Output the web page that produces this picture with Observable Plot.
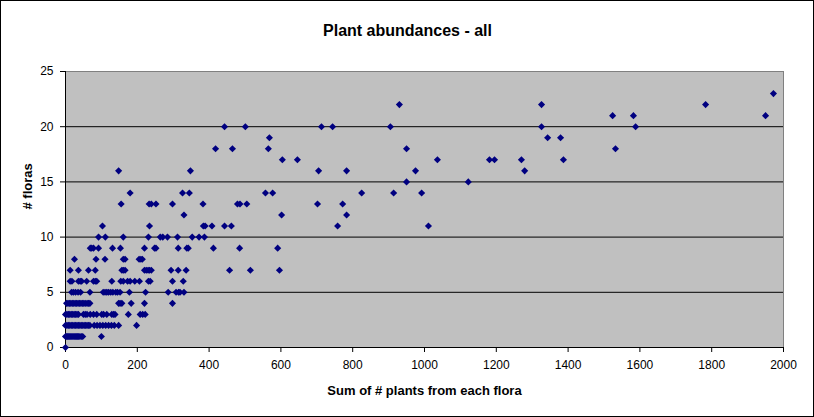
<!DOCTYPE html>
<html>
<head>
<meta charset="utf-8">
<script src="https://cdn.jsdelivr.net/npm/d3@7"></script>
<script src="https://cdn.jsdelivr.net/npm/@observablehq/plot@0.6"></script>
<style>
  html, body { margin: 0; padding: 0; background: #fff; }
  #chart svg { display: block; outline: 1px solid #000; outline-offset: -1px; background: #fff; }
</style>
</head>
<body>
<div id="chart"></div>
<script>
// Sum of # plants from each flora, grouped by # floras (y value)
const floras0 = [0];
const floras1 = [0, 3, 6, 9, 12, 15, 18, 21, 24, 27, 30, 33, 36, 40, 44, 48, 100];
const floras2 = [0, 4, 8, 12, 16, 20, 24, 28, 32, 36, 40, 44, 48, 52, 56, 60, 64, 68, 80, 88, 96, 104, 112, 120, 128, 136, 148, 198];
const floras3 = [0, 4, 8, 12, 16, 20, 24, 28, 32, 36, 50, 55, 60, 69, 78, 87, 101, 106, 115, 129, 134, 138, 175, 208, 215, 222];
const floras4 = [3, 7, 11, 15, 19, 23, 27, 31, 35, 39, 43, 47, 51, 55, 60, 64, 68, 148, 152, 157, 183, 220, 298];
const floras5 = [17, 22, 28, 35, 42, 68, 105, 110, 115, 120, 126, 132, 140, 145, 152, 178, 223, 286, 308, 315, 319, 330];
const floras6 = [13, 18, 36, 41, 45, 59, 78, 83, 87, 129, 154, 161, 173, 180, 193, 206, 231, 236, 298, 328];
const floras7 = [13, 36, 64, 83, 157, 161, 166, 220, 225, 230, 234, 239, 294, 314, 336, 457, 515, 596];
const floras8 = [25, 85, 110, 161, 166, 205, 210, 214];
const floras9 = [69, 73, 78, 92, 131, 153, 220, 248, 252, 314, 338, 342, 412, 485, 591];
const floras10 = [92, 111, 161, 231, 264, 271, 284, 312, 353, 372, 387];
const floras11 = [103, 234, 384, 389, 408, 443, 462, 758, 1011];
const floras12 = [330, 602, 783];
const floras13 = [155, 233, 239, 252, 298, 383, 479, 486, 505, 702, 772];
const floras14 = [180, 326, 345, 557, 577, 825, 914, 992];
const floras15 = [950, 1122];
const floras16 = [148, 348, 705, 783, 975, 1279];
const floras17 = [604, 646, 1036, 1181, 1195, 1270, 1387];
const floras18 = [418, 465, 565, 950, 1532];
const floras19 = [568, 1343, 1379];
const floras20 = [443, 501, 713, 744, 905, 1326, 1588];
const floras21 = [1524, 1582, 1950];
const floras22 = [930, 1326, 1783];
const floras23 = [1972];

const xTicks = [0, 200, 400, 600, 800, 1000, 1200, 1400, 1600, 1800, 2000];
const yTicks = [0, 5, 10, 15, 20, 25];
const gridY = [5, 10, 15, 20];

const titleText = "Plant abundances - all";
const xLabel = "Sum of # plants from each flora";
const yLabel = "# floras";

const groups = [floras0, floras1, floras2, floras3, floras4, floras5, floras6, floras7,
  floras8, floras9, floras10, floras11, floras12, floras13, floras14, floras15, floras16,
  floras17, floras18, floras19, floras20, floras21, floras22, floras23];
const data = groups.flatMap((xs, n) => xs.map(s => ({sum: s, floras: n})));

const font = "'Liberation Sans', Arial, sans-serif";

const chart = Plot.plot({
  width: 814,
  height: 417,
  marginLeft: 65,
  marginRight: 31,
  marginTop: 71,
  marginBottom: 70,
  style: {fontFamily: font, fontSize: "12px", color: "#000", background: "#fff"},
  x: {domain: [0, 2000]},
  y: {domain: [0, 25]},
  marks: [
    Plot.frame({fill: "#c0c0c0", stroke: "#808080"}),
    Plot.ruleY(gridY, {stroke: "#000", strokeWidth: 1}),
    Plot.ruleX([0], {stroke: "#000"}),
    Plot.ruleY([0], {stroke: "#000"}),
    Plot.axisX({ticks: xTicks, tickSize: 5, tickPadding: 8, tickFormat: d => String(d), label: null, stroke: "#000", fill: "#000", fontSize: 12}),
    Plot.axisY({ticks: yTicks, tickSize: 5, tickPadding: 7, tickFormat: d => String(d), label: null, stroke: "#000", fill: "#000", fontSize: 12}),
    Plot.dot(data, {x: "sum", y: "floras", symbol: "diamond2", fill: "#000080", r: 3.2}),
    Plot.text([titleText], {frameAnchor: "top", dx: -17, dy: -36, lineAnchor: "bottom", fontSize: 16, fontWeight: "bold", fill: "#000"}),
    Plot.text([xLabel], {frameAnchor: "bottom", dy: 47, lineAnchor: "bottom", fontSize: 13, fontWeight: "bold", fill: "#000"}),
    Plot.text([yLabel], {frameAnchor: "left", dx: -34, rotate: -90, lineAnchor: "bottom", fontSize: 13, fontWeight: "bold", fill: "#000"})
  ]
});
document.getElementById("chart").appendChild(chart);
</script>
</body>
</html>
